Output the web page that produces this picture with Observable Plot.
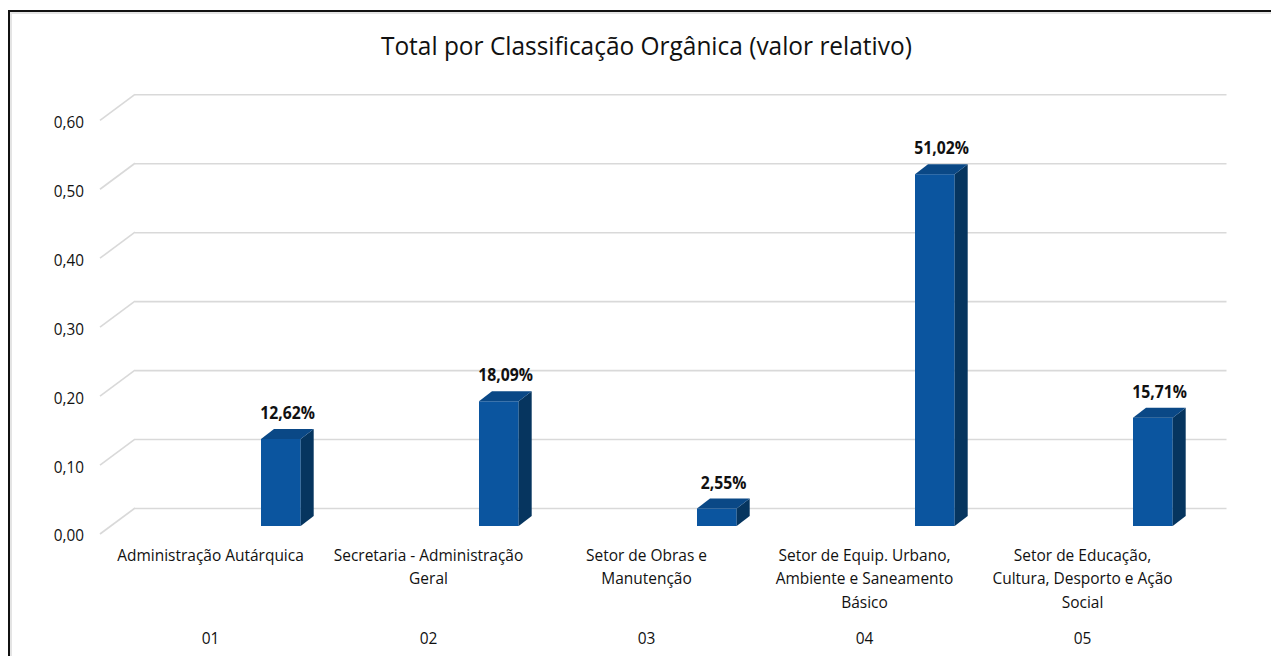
<!DOCTYPE html>
<html><head><meta charset="utf-8">
<script src="https://cdn.jsdelivr.net/npm/d3@7"></script>
<script src="https://cdn.jsdelivr.net/npm/@observablehq/plot@0.6"></script>
<style>
html,body{margin:0;padding:0;background:#fff;overflow:hidden;}
#frame{position:absolute;left:8px;top:10px;width:1400px;height:700px;border-left:2px solid #111;border-top:2px solid #111;box-shadow: inset 2px 2px 0 #e4e4e4;z-index:2;pointer-events:none;}
#chart{position:absolute;left:0;top:0;width:1271px;}
#title{height:75px;box-sizing:border-box;padding-top:30px;padding-left:21px;text-align:center;font-family:"Open Sans",sans-serif;font-size:26px;line-height:30px;color:#111;white-space:nowrap;}
#title span{display:inline-block;transform:scaleX(0.94);transform-origin:center;}
</style></head><body>
<div id="chart"><div id="title"><span>Total por Classificação Orgânica (valor relativo)</span></div></div>
<div id="frame"></div>
<script>
const codes = ["01", "02", "03", "04", "05"];
const names = [
  "Administração Autárquica",
  "Secretaria - Administração\nGeral",
  "Setor de Obras e\nManutenção",
  "Setor de Equip. Urbano,\nAmbiente e Saneamento\nBásico",
  "Setor de Educação,\nCultura, Desporto e Ação\nSocial"
];
const values = [0.1262, 0.1809, 0.0255, 0.5102, 0.1571];
const yTicks = [0, 0.1, 0.2, 0.3, 0.4, 0.5, 0.6];

const data = codes.map((c, i) => ({code: c, name: names[i], value: values[i]}));
const nameOf = Object.fromEntries(codes.map((c, i) => [c, names[i]]));
const comma = (v, d) => v.toFixed(d).replace(".", ",");

const DEPTH_X = 35, DEPTH_Y = 26;   // floor depth (front plane -> back wall)
const BAR_DX = 13, BAR_DY = 10;     // bar depth
const SQUEEZE = 0.9;                // narrow letterforms like the original

function floorDiagonals(index, scales, values, dimensions) {
  const g = d3.create("svg:g").attr("stroke", "#d9d9d9").attr("stroke-width", 1.6);
  for (const i of index) {
    const y = values.y[i];
    g.append("line")
      .attr("x1", dimensions.marginLeft).attr("y1", y + DEPTH_Y)
      .attr("x2", dimensions.marginLeft + DEPTH_X).attr("y2", y);
  }
  return g.node();
}

function bars3d(index, scales, values, dimensions, context, next) {
  const g = next(index, scales, values, dimensions, context);
  const rects = Array.from(g.querySelectorAll("rect"));
  for (const r of rects) {
    const x = +r.getAttribute("x"), y = +r.getAttribute("y");
    const w = +r.getAttribute("width"), h = +r.getAttribute("height");
    const side = document.createElementNS("http://www.w3.org/2000/svg", "polygon");
    side.setAttribute("points", `${x+w},${y} ${x+w+BAR_DX},${y-BAR_DY} ${x+w+BAR_DX},${y+h-BAR_DY} ${x+w},${y+h}`);
    side.setAttribute("fill", "#06355f");
    const top = document.createElementNS("http://www.w3.org/2000/svg", "polygon");
    top.setAttribute("points", `${x},${y} ${x+BAR_DX},${y-BAR_DY} ${x+w+BAR_DX},${y-BAR_DY} ${x+w},${y}`);
    top.setAttribute("fill", "#0a4886");
    g.appendChild(side);
    g.appendChild(top);
  }
  return g;
}

const plot = Plot.plot({
  width: 1271,
  height: 581,
  marginLeft: 100,
  marginRight: 79.5,
  marginTop: 19.3,
  marginBottom: 148,
  style: {fontFamily: "'Open Sans', sans-serif", color: "#111", background: "#fff", overflow: "visible"},
  x: {domain: codes, padding: 0, axis: null},
  y: {domain: [0, 0.6], axis: null},
  marks: [
    Plot.ruleY(yTicks, {stroke: "#d9d9d9", strokeWidth: 1.6, dx: DEPTH_X}),
    Plot.ruleY(yTicks, {render: floorDiagonals}),
    Plot.axisY(yTicks, {tickSize: 0, tickPadding: 16.5, dy: DEPTH_Y + 1.5, fontSize: 17, label: null, tickFormat: d => comma(d, 2)}),
    Plot.axisX({tickSize: 0, tickPadding: 35.5, fontSize: 17.2, lineHeight: 1.37, label: null, tickFormat: c => nameOf[c]}),
    Plot.axisX({tickSize: 0, tickPadding: 123, fontSize: 17.2, label: null, tickFormat: c => c}),
    Plot.barY(data, {x: "code", y: "value", fill: "#0b559f", insetLeft: 160, insetRight: 18.3, dy: 18, render: bars3d}),
    Plot.text(data, {x: "code", y: "value", text: d => comma(d.value * 100, 2) + "%", dx: 77, dy: -8, fontSize: 17.5, fontWeight: "bold", fill: "#111"})
  ]
});
document.getElementById("chart").appendChild(plot);

// condense glyphs horizontally (the original uses a narrow typeface)
plot.querySelectorAll("text").forEach(t => {
  const spans = t.querySelectorAll("tspan");
  const targets = spans.length ? Array.from(spans) : [t];
  for (const el of targets) {
    const L = el.getComputedTextLength();
    if (L > 0) {
      el.setAttribute("textLength", (L * SQUEEZE).toFixed(2));
      el.setAttribute("lengthAdjust", "spacingAndGlyphs");
    }
  }
});
</script>
</body></html>
